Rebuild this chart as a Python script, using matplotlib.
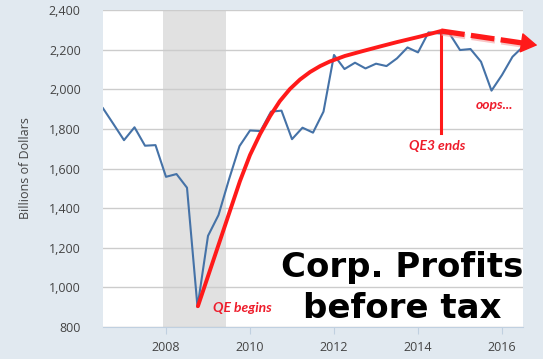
import matplotlib
matplotlib.use('Agg')
import matplotlib.pyplot as plt
import matplotlib.patheffects as pe
import numpy as np

# Corporate profits before tax, quarterly, billions of dollars (2006Q3 .. 2016Q3)
quarters = np.arange(2006.5, 2016.51, 0.25)
profits = [1904, 1824, 1743, 1808, 1715, 1718, 1558, 1572, 1503, 901,
           1260, 1365, 1545, 1713, 1792, 1789, 1887, 1892, 1748, 1806,
           1781, 1887, 2173, 2102, 2134, 2105, 2129, 2117, 2156, 2211,
           2186, 2287, 2282, 2281, 2198, 2203, 2139, 1993, 2072, 2164,
           2215]

recession = (2007.92, 2009.43)

# hand-drawn "QE" trend curve
qe_x = [2008.76, 2009.76, 2010.00, 2010.24, 2010.48, 2010.71, 2010.95,
        2011.19, 2011.43, 2011.67, 2011.90, 2012.26, 2012.69, 2013.10,
        2013.50, 2014.05, 2014.55]
qe_y = [905, 1536, 1668, 1774, 1865, 1940, 2001, 2049, 2087, 2117, 2140,
        2168, 2193, 2216, 2238, 2266, 2294]

qe3_end = 2014.55
qe3_line = (1779, 2294)
arrow_start = (2014.55, 2294)
arrow_base = (2016.5, 2233)
arrow_tip = (2016.84, 2222)

yticks = [800, 1000, 1200, 1400, 1600, 1800, 2000, 2200, 2400]
xticks = [2008, 2010, 2012, 2014, 2016]

bg = '#e1e9f0'
blue = '#4572a7'
red = '#ff1a1a'
txt_red = '#ee1c2b'

fig = plt.figure(figsize=(5.43, 3.59), dpi=100, facecolor=bg)
ax = fig.add_axes([103/543, 1 - 327/359, 420/543, 317/359])
ax.set_facecolor('white')

ax.axvspan(*recession, color='#e1e1e1', lw=0, zorder=0)
ax.plot(quarters, profits, color=blue, lw=1.5, zorder=3)

# red annotations
ax.plot(qe_x, qe_y, color=red, lw=2.8, solid_capstyle='round',
        solid_joinstyle='round', zorder=4)
ax.plot([qe3_end, qe3_end], qe3_line, color=red, lw=2.2, zorder=4)
ax.plot([arrow_start[0], arrow_base[0]], [arrow_start[1], arrow_base[1]],
        color=red, lw=3.8, linestyle=(0, (4.5, 1.2)), clip_on=False, zorder=5,
        path_effects=[pe.SimpleLineShadow(offset=(0.5, -1.5), shadow_color='#f4a0a0', alpha=0.6),
                      pe.Normal()])
ax.annotate('', xy=arrow_tip, xytext=arrow_base, annotation_clip=False,
            arrowprops=dict(arrowstyle='-|>,head_length=1.05,head_width=0.65',
                            color=red, lw=1, shrinkA=0, shrinkB=0), zorder=6)

ax.set_xlim(2006.5, 2016.5)
ax.set_ylim(800, 2400)
ax.set_yticks(yticks)
ax.set_yticklabels([f'{v:,}' for v in yticks])
ax.set_xticks(xticks)
ax.grid(axis='y', color='#cccccc', lw=1)
ax.set_axisbelow(True)
for s in ['top', 'right', 'left']:
    ax.spines[s].set_visible(False)
ax.spines['bottom'].set_color('#c0d0e0')
ax.tick_params(axis='y', length=0, pad=16, labelsize=9, labelcolor='#444444')
ax.tick_params(axis='x', length=5, color='#c0d0e0', pad=5, labelsize=9, labelcolor='#444444')
for lab in ax.get_xticklabels() + ax.get_yticklabels():
    lab.set_family('Open Sans')
ax.set_ylabel('Billions of Dollars', fontsize=9, color='#444444', family='Open Sans', labelpad=12)

# text labels
font_red = dict(color=txt_red, style='italic', weight='bold', family='Lato', fontsize=10)
ax.text(2009.12, 897, 'QE begins', ha='left', va='center', **font_red)
ax.text(2014.46, 1713, 'QE3 ends', ha='center', va='center', **font_red)
ax.text(2015.83, 1920, 'oops...', ha='center', va='center', zorder=7, **font_red)

fig.text(402/543, 1 - 277/359, 'Corp. Profits', ha='center', va='baseline',
         fontsize=24.5, weight='bold', family='DejaVu Sans', color='black')
fig.text(402/543, 1 - 318/359, 'before tax', ha='center', va='baseline',
         fontsize=24.5, weight='bold', family='DejaVu Sans', color='black')

fig.savefig('out.png', dpi=100, facecolor=bg)
